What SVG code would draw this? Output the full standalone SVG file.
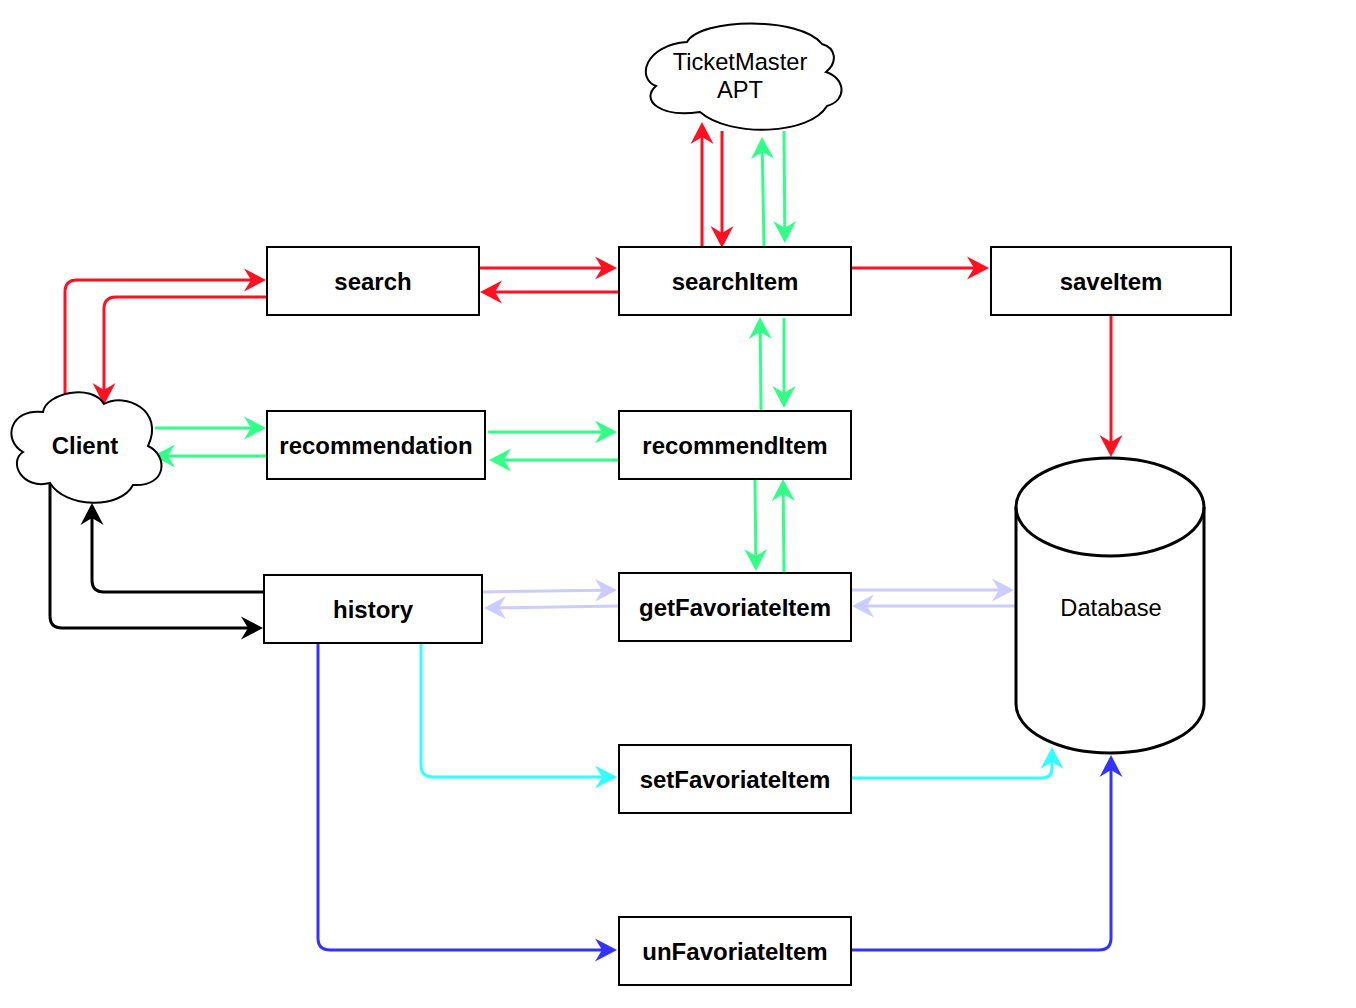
<svg xmlns="http://www.w3.org/2000/svg" width="1356" height="1008" viewBox="0 0 1356 1008">
<style>
.box{fill:#fff;stroke:#000;stroke-width:2}
.lbl{font-family:"Liberation Sans",Arial,Helvetica,sans-serif;font-size:24px;font-weight:bold;text-anchor:middle;fill:#000}
.reg{font-family:"Liberation Sans",Arial,Helvetica,sans-serif;font-size:23.7px;text-anchor:middle;fill:#000}
.cloud{fill:#fff;stroke:#000;stroke-width:2}
.c{fill:none;stroke-width:3;stroke-linejoin:round}
.red{stroke:#FF1122;marker-end:url(#aRed)}
.grn{stroke:#33FF88;marker-end:url(#aGrn)}
.lav{stroke:#CCCCFF;marker-end:url(#aLav)}
.blk{stroke:#000;marker-end:url(#aBlk)}
.cyn{stroke:#33FFFF;marker-end:url(#aCyn)}
.blu{stroke:#3333FF;marker-end:url(#aBlu)}
</style>
<defs>
<marker id="aRed" markerUnits="userSpaceOnUse" markerWidth="22" markerHeight="24" viewBox="0 0 22 24" refX="7" refY="12" orient="auto"><path d="M0,0.5 L22,12 L0,23.5 L7,12 Z" fill="#FF1122"/></marker>
<marker id="aGrn" markerUnits="userSpaceOnUse" markerWidth="22" markerHeight="24" viewBox="0 0 22 24" refX="7" refY="12" orient="auto"><path d="M0,0.5 L22,12 L0,23.5 L7,12 Z" fill="#33FF88"/></marker>
<marker id="aLav" markerUnits="userSpaceOnUse" markerWidth="22" markerHeight="24" viewBox="0 0 22 24" refX="7" refY="12" orient="auto"><path d="M0,0.5 L22,12 L0,23.5 L7,12 Z" fill="#CCCCFF"/></marker>
<marker id="aBlk" markerUnits="userSpaceOnUse" markerWidth="22" markerHeight="24" viewBox="0 0 22 24" refX="7" refY="12" orient="auto"><path d="M0,0.5 L22,12 L0,23.5 L7,12 Z" fill="#000"/></marker>
<marker id="aCyn" markerUnits="userSpaceOnUse" markerWidth="22" markerHeight="24" viewBox="0 0 22 24" refX="7" refY="12" orient="auto"><path d="M0,0.5 L22,12 L0,23.5 L7,12 Z" fill="#33FFFF"/></marker>
<marker id="aBlu" markerUnits="userSpaceOnUse" markerWidth="22" markerHeight="24" viewBox="0 0 22 24" refX="7" refY="12" orient="auto"><path d="M0,0.5 L22,12 L0,23.5 L7,12 Z" fill="#3333FF"/></marker>
</defs>
<rect width="1356" height="1008" fill="#fff"/>

<g id="connectors">
<path class="c red" d="M65,393 V292 Q65,280 77,280 H251"/>
<path class="c red" d="M267,297 H116 Q104,297 104,309 V390"/>
<path class="c red" d="M479,268 H602"/>
<path class="c red" d="M619,292 H495"/>
<path class="c red" d="M702,247 V137"/>
<path class="c red" d="M722,131 V233"/>
<path class="c red" d="M851,268 H974"/>
<path class="c red" d="M1111,315 V442"/>

<path class="c grn" d="M764,247 L762.3,152"/>
<path class="c grn" d="M784,131 L784.8,228"/>
<path class="c grn" d="M155,428 H251"/>
<path class="c grn" d="M267,456 H168"/>
<path class="c grn" d="M488,432 H602"/>
<path class="c grn" d="M619,460 H504"/>
<path class="c grn" d="M761,410 L760.2,332"/>
<path class="c grn" d="M784,318 V393"/>
<path class="c grn" d="M755,479 L755.8,556"/>
<path class="c grn" d="M784,573 L783.2,494"/>

<path class="c lav" d="M482,592 L602,590.2"/>
<path class="c lav" d="M619,606 L499,607.8"/>
<path class="c lav" d="M851,590 H999"/>
<path class="c lav" d="M1016,606 H867"/>

<path class="c blk" d="M264,592 H104 Q92,592 92,580 V518"/>
<path class="c blk" d="M50,484 V616 Q50,628 62,628 H248"/>

<path class="c cyn" d="M421,643 V765 Q421,777 433,777 H602"/>
<path class="c cyn" d="M851,778 H1042 Q1052,778 1052,768 V762"/>

<path class="c blu" d="M318,643 V938 Q318,950 330,950 H602"/>
<path class="c blu" d="M851,950 H1099 Q1111,950 1111,938 V770"/>
</g>

<g id="client">
<path class="cloud" d="M43,412 C46,393 92,383 104,404 C125,392 165,410 148,446 C168,455 168,487 133,485 C120,510 65,508 50,483 C22,490 8,462 23,452 C2,440 10,408 43,412 Z"/>
<text class="lbl" x="85" y="454">Client</text>
</g>

<g id="ticketmaster">
<path class="cloud" d="M687,42 C700,18 800,16 822,44 C836,48 838,62 826,72 C845,78 848,100 827,106 C810,135 730,138 700,112 C660,118 640,100 656,86 C636,78 645,45 687,42 Z"/>
<text class="reg" x="740" y="70">TicketMaster</text>
<text class="reg" x="740" y="98">APT</text>
</g>

<g id="search">
<rect class="box" x="267" y="247" width="212" height="68"/>
<text class="lbl" x="373" y="290">search</text>
</g>
<g id="searchItem">
<rect class="box" x="619" y="247" width="232" height="68"/>
<text class="lbl" x="735" y="290">searchItem</text>
</g>
<g id="saveItem">
<rect class="box" x="991" y="247" width="240" height="68"/>
<text class="lbl" x="1111" y="290">saveItem</text>
</g>
<g id="recommendation">
<rect class="box" x="267" y="411" width="218" height="68"/>
<text class="lbl" x="376" y="454">recommendation</text>
</g>
<g id="recommendItem">
<rect class="box" x="619" y="411" width="232" height="68"/>
<text class="lbl" x="735" y="454">recommendItem</text>
</g>
<g id="history">
<rect class="box" x="264" y="575" width="218" height="68"/>
<text class="lbl" x="373" y="618">history</text>
</g>
<g id="getFavoriateItem">
<rect class="box" x="619" y="573" width="232" height="68"/>
<text class="lbl" x="735" y="616">getFavoriateItem</text>
</g>
<g id="setFavoriateItem">
<rect class="box" x="619" y="745" width="232" height="68"/>
<text class="lbl" x="735" y="788">setFavoriateItem</text>
</g>
<g id="unFavoriateItem">
<rect class="box" x="619" y="917" width="232" height="68"/>
<text class="lbl" x="735" y="960">unFavoriateItem</text>
</g>

<g id="database">
<path d="M1016,507 A94,49 0 0 1 1204,507 V704 A94,49 0 0 1 1016,704 Z" fill="#fff" stroke="#000" stroke-width="3"/>
<path d="M1016,507 A94,49 0 0 0 1204,507" fill="none" stroke="#000" stroke-width="3"/>
<text class="reg" x="1111" y="616">Database</text>
</g>
</svg>
